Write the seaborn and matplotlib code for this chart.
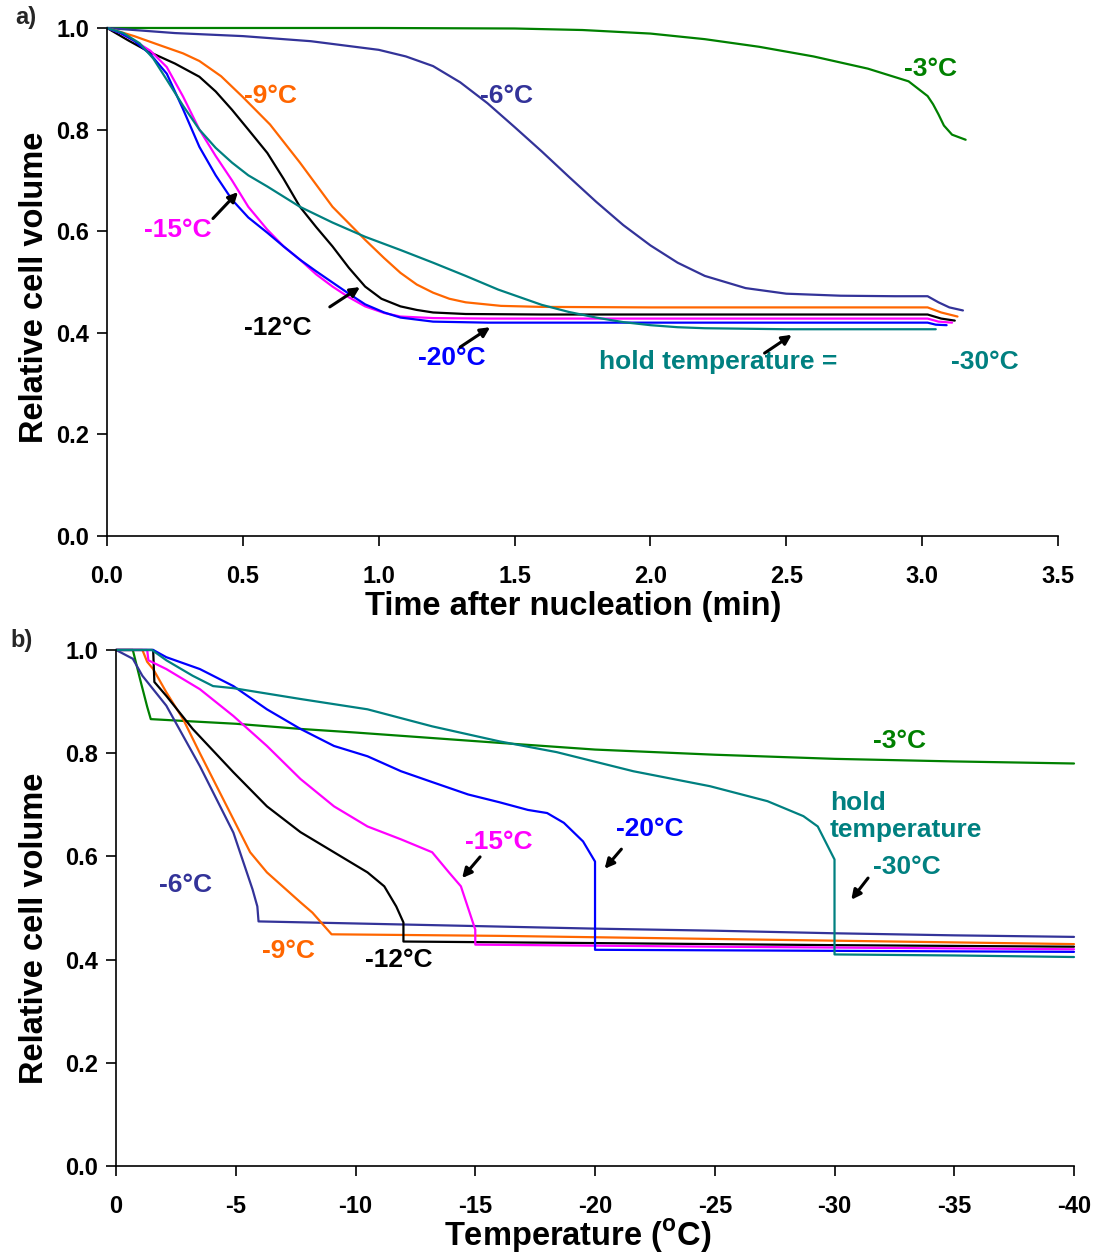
import numpy as np
import pandas as pd
import matplotlib
matplotlib.use('Agg')
import matplotlib.pyplot as plt
import seaborn as sns

# ---- panel a: relative volume vs time after nucleation (min) ----
t_3 = [0, 0.5, 1.0, 1.5, 1.75, 2.0, 2.2, 2.4, 2.6, 2.8, 2.95, 3.02, 3.04, 3.06, 3.08, 3.11, 3.16]
v_3 = [1.0, 1.0, 1.0, 0.999, 0.996, 0.989, 0.978, 0.963, 0.944, 0.92, 0.895, 0.866, 0.85, 0.83, 0.808, 0.79, 0.78]
t_6 = [0, 0.25, 0.5, 0.75, 1.0, 1.1, 1.2, 1.3, 1.4, 1.5, 1.6, 1.7, 1.8, 1.9, 2.0, 2.1, 2.2, 2.35, 2.5, 2.7, 2.9, 3.02, 3.06, 3.1, 3.15]
v_6 = [1.0, 0.99, 0.984, 0.974, 0.957, 0.944, 0.925, 0.893, 0.852, 0.805, 0.757, 0.707, 0.658, 0.612, 0.572, 0.538, 0.512, 0.488, 0.477, 0.473, 0.472, 0.472, 0.46, 0.45, 0.444]
t_9 = [0, 0.1, 0.2, 0.28, 0.34, 0.42, 0.5, 0.6, 0.71, 0.83, 0.95, 1.02, 1.08, 1.14, 1.2, 1.26, 1.32, 1.45, 1.6, 2.0, 2.5, 3.02, 3.07, 3.13]
v_9 = [1.0, 0.984, 0.965, 0.95, 0.935, 0.905, 0.864, 0.81, 0.735, 0.648, 0.583, 0.547, 0.518, 0.495, 0.479, 0.467, 0.46, 0.453, 0.451, 0.45, 0.45, 0.45, 0.44, 0.432]
t_12 = [0, 0.08, 0.155, 0.25, 0.34, 0.4, 0.46, 0.52, 0.59, 0.65, 0.71, 0.77, 0.83, 0.89, 0.95, 1.01, 1.08, 1.14, 1.2, 1.32, 1.6, 2.0, 2.5, 3.02, 3.07, 3.12]
v_12 = [1.0, 0.975, 0.953, 0.93, 0.904, 0.875, 0.839, 0.8, 0.754, 0.703, 0.648, 0.608, 0.57, 0.528, 0.491, 0.467, 0.452, 0.445, 0.44, 0.437, 0.436, 0.436, 0.436, 0.436, 0.428, 0.424]
t_15 = [0, 0.05, 0.1, 0.16, 0.22, 0.28, 0.34, 0.4, 0.46, 0.52, 0.59, 0.65, 0.71, 0.77, 0.83, 0.89, 0.95, 1.02, 1.08, 1.2, 1.4, 2.0, 2.5, 3.02, 3.06, 3.11]
v_15 = [1.0, 0.99, 0.975, 0.955, 0.923, 0.865, 0.80, 0.748, 0.70, 0.648, 0.603, 0.57, 0.544, 0.515, 0.491, 0.47, 0.452, 0.439, 0.432, 0.429, 0.428, 0.428, 0.428, 0.428, 0.422, 0.42]
t_20 = [0, 0.05, 0.1, 0.16, 0.22, 0.28, 0.34, 0.4, 0.46, 0.52, 0.59, 0.65, 0.71, 0.77, 0.83, 0.89, 0.95, 1.02, 1.08, 1.2, 1.4, 2.0, 2.5, 3.02, 3.05, 3.09]
v_20 = [1.0, 0.99, 0.975, 0.948, 0.91, 0.84, 0.766, 0.71, 0.662, 0.627, 0.597, 0.57, 0.544, 0.521, 0.499, 0.477, 0.456, 0.44, 0.43, 0.422, 0.42, 0.42, 0.42, 0.42, 0.416, 0.415]
t_30 = [0, 0.06, 0.12, 0.17, 0.22, 0.28, 0.34, 0.4, 0.46, 0.52, 0.59, 0.71, 0.83, 0.95, 1.08, 1.2, 1.32, 1.44, 1.6, 1.7, 1.8, 1.9, 2.0, 2.1, 2.2, 2.5, 3.05]
v_30 = [1.0, 0.99, 0.97, 0.94, 0.898, 0.847, 0.80, 0.764, 0.735, 0.71, 0.688, 0.648, 0.617, 0.589, 0.563, 0.538, 0.512, 0.485, 0.455, 0.441, 0.43, 0.421, 0.415, 0.411, 0.409, 0.407, 0.407]

# ---- panel b: relative volume vs temperature (C) ----
T_3 = [0, -0.7, -1.0, -1.3, -1.45, -3, -5, -7.7, -10, -13, -16, -20, -25, -30, -35, -40]
b_3 = [1.0, 1.0, 0.944, 0.89, 0.866, 0.862, 0.857, 0.847, 0.84, 0.83, 0.82, 0.807, 0.797, 0.789, 0.784, 0.78]
T_6 = [0, -0.7, -1.1, -2.1, -3.5, -4.9, -5.7, -5.9, -5.95, -10, -16, -20, -25, -30, -35, -40]
b_6 = [1.0, 0.983, 0.95, 0.892, 0.775, 0.646, 0.536, 0.503, 0.474, 0.47, 0.464, 0.46, 0.456, 0.451, 0.447, 0.444]
T_9 = [0, -1.1, -1.3, -1.55, -2.1, -2.8, -3.5, -4.9, -5.6, -6.3, -7.7, -8.2, -9.0, -16, -25, -40]
b_9 = [1.0, 1.0, 0.977, 0.963, 0.918, 0.866, 0.80, 0.672, 0.608, 0.569, 0.511, 0.491, 0.449, 0.446, 0.44, 0.43]
T_12 = [0, -1.55, -1.6, -2.1, -3.2, -4.9, -6.3, -7.7, -9.1, -10.5, -11.2, -11.7, -12.0, -12.0, -20, -30, -40]
b_12 = [1.0, 1.0, 0.938, 0.911, 0.847, 0.763, 0.697, 0.647, 0.608, 0.569, 0.542, 0.503, 0.472, 0.435, 0.432, 0.428, 0.425]
T_15 = [0, -1.3, -1.35, -2.1, -3.5, -4.9, -6.3, -7.7, -9.1, -10.5, -11.9, -13.2, -13.9, -14.4, -14.9, -15.0, -15.0, -25, -40]
b_15 = [1.0, 1.0, 0.98, 0.963, 0.924, 0.872, 0.814, 0.75, 0.697, 0.658, 0.633, 0.608, 0.569, 0.542, 0.472, 0.458, 0.429, 0.425, 0.42]
T_20 = [0, -1.55, -2.1, -3.5, -4.9, -6.3, -7.7, -9.1, -10.5, -11.9, -13.2, -14.7, -16.0, -17.2, -18.0, -18.7, -19.5, -20.0, -20.0, -25, -30, -40]
b_20 = [1.0, 1.0, 0.986, 0.963, 0.93, 0.885, 0.847, 0.814, 0.794, 0.765, 0.744, 0.72, 0.705, 0.69, 0.684, 0.665, 0.629, 0.59, 0.419, 0.418, 0.417, 0.415]
T_30 = [0, -1.5, -2.1, -3.2, -4.05, -4.9, -7.7, -10.5, -13.2, -16.0, -18.4, -21.6, -24.8, -27.2, -28.7, -29.3, -30.0, -30.0, -35, -40]
b_30 = [1.0, 1.0, 0.98, 0.95, 0.93, 0.926, 0.905, 0.885, 0.852, 0.823, 0.802, 0.765, 0.736, 0.707, 0.678, 0.658, 0.594, 0.41, 0.408, 0.405]

hold_temps = ['-3', '-6', '-9', '-12', '-15', '-20', '-30']
colors = {'-3': '#008000', '-6': '#333399', '-9': '#FF6600', '-12': '#000000',
          '-15': '#FF00FF', '-20': '#0000FF', '-30': '#008080'}

series_a = {'-3': (t_3, v_3), '-6': (t_6, v_6), '-9': (t_9, v_9), '-12': (t_12, v_12),
            '-15': (t_15, v_15), '-20': (t_20, v_20), '-30': (t_30, v_30)}
series_b = {'-3': (T_3, b_3), '-6': (T_6, b_6), '-9': (T_9, b_9), '-12': (T_12, b_12),
            '-15': (T_15, b_15), '-20': (T_20, b_20), '-30': (T_30, b_30)}


def to_long(series):
    frames = []
    for k in hold_temps:
        x, y = series[k]
        frames.append(pd.DataFrame({'x': x, 'y': y, 'hold': k}))
    return pd.concat(frames, ignore_index=True)


df_a = to_long(series_a)
df_b = to_long(series_b)

sns.set_theme(style='white')
plt.rcParams['font.family'] = ['Liberation Sans', 'DejaVu Sans']
plt.rcParams['font.weight'] = 'bold'
plt.rcParams['axes.unicode_minus'] = False
plt.rcParams['mathtext.fontset'] = 'custom'
plt.rcParams['mathtext.rm'] = 'Liberation Sans:bold'
plt.rcParams['mathtext.bf'] = 'Liberation Sans:bold'

fig = plt.figure(figsize=(11.02, 12.55), dpi=100)
ax1 = fig.add_axes([0.0971, 0.5729, 0.863, 0.4048])
ax2 = fig.add_axes([0.1053, 0.0709, 0.8693, 0.4112])

for ax, df in [(ax1, df_a), (ax2, df_b)]:
    sns.lineplot(data=df, x='x', y='y', hue='hold', palette=colors,
                 estimator=None, sort=False, legend=False, linewidth=1.6, ax=ax)
    for ln in ax.lines:
        ln.set_clip_on(False)
    for s in ['top', 'right']:
        ax.spines[s].set_visible(False)
    for s in ['left', 'bottom']:
        ax.spines[s].set_color('black')
        ax.spines[s].set_linewidth(1.2)
    ax.tick_params(axis='both', direction='out', length=7, width=1.2, color='black',
                   labelsize=17, labelcolor='black', left=True, bottom=True)
    ax.tick_params(axis='x', pad=14)
    ax.tick_params(axis='y', pad=6)
    ax.set_ylim(0, 1.0)
    ax.set_yticks([0, 0.2, 0.4, 0.6, 0.8, 1.0])
    ax.set_yticklabels(['0.0', '0.2', '0.4', '0.6', '0.8', '1.0'])
    for lab in ax.get_xticklabels() + ax.get_yticklabels():
        lab.set_fontweight('bold')
    ax.set_ylabel('Relative cell volume', fontsize=23.5, fontweight='bold', color='black')

# panel a axes
ax1.set_xlim(0, 3.5)
ax1.set_xticks(np.arange(0, 3.51, 0.5))
ax1.set_xticklabels([f'{v:.1f}' for v in np.arange(0, 3.51, 0.5)], fontweight='bold')
ax1.set_xlabel('Time after nucleation (min)', fontsize=23.5, fontweight='bold', color='black')
ax1.xaxis.set_label_coords(0.49, -0.108)
ax1.xaxis.label.set_va('top')
ax1.yaxis.set_label_coords(-0.06, 0.49)

# panel b axes
ax2.set_xlim(0, -40)
ax2.set_xticks(np.arange(0, -40.1, -5))
ax2.set_xticklabels([f'{int(v)}' for v in np.arange(0, -40.1, -5)], fontweight='bold')
ax2.set_xlabel(r'Temperature ($^{\mathbf{o}}$C)', fontsize=23.5, fontweight='bold', color='black')
ax2.xaxis.set_label_coords(0.482, -0.100)
ax2.xaxis.label.set_va('top')
ax2.yaxis.set_label_coords(-0.069, 0.46)

lab_kw = dict(fontsize=19, fontweight='bold', ha='center', va='center')
arrow_kw = dict(arrowstyle='-|>', color='black', lw=2.2, mutation_scale=14, shrinkA=0, shrinkB=0)

# labels panel a
ax1.text(3.03, 0.919, '-3°C', color=colors['-3'], **lab_kw)
ax1.text(1.47, 0.866, '-6°C', color=colors['-6'], **lab_kw)
ax1.text(0.60, 0.866, '-9°C', color=colors['-9'], **lab_kw)
ax1.text(0.26, 0.602, '-15°C', color=colors['-15'], **lab_kw)
ax1.text(0.63, 0.409, '-12°C', color=colors['-12'], **lab_kw)
ax1.text(1.27, 0.350, '-20°C', color=colors['-20'], **lab_kw)
ax1.text(2.25, 0.343, 'hold temperature =', color=colors['-30'], **lab_kw)
ax1.text(3.23, 0.343, '-30°C', color=colors['-30'], **lab_kw)
ax1.annotate('', xy=(0.482, 0.677), xytext=(0.39, 0.625), arrowprops=arrow_kw)
ax1.annotate('', xy=(0.931, 0.49), xytext=(0.82, 0.451), arrowprops=arrow_kw)
ax1.annotate('', xy=(1.41, 0.411), xytext=(1.30, 0.372), arrowprops=arrow_kw)
ax1.annotate('', xy=(2.52, 0.396), xytext=(2.42, 0.360), arrowprops=arrow_kw)

# labels panel b
ax2.text(-32.7, 0.824, '-3°C', color=colors['-3'], **lab_kw)
ax2.text(-29.8, 0.703, 'hold', color=colors['-30'], fontsize=19, fontweight='bold', ha='left', va='center')
ax2.text(-29.8, 0.651, 'temperature', color=colors['-30'], fontsize=19, fontweight='bold', ha='left', va='center')
ax2.text(-33.0, 0.579, '-30°C', color=colors['-30'], **lab_kw)
ax2.text(-22.3, 0.653, '-20°C', color=colors['-20'], **lab_kw)
ax2.text(-16.0, 0.628, '-15°C', color=colors['-15'], **lab_kw)
ax2.text(-2.9, 0.545, '-6°C', color=colors['-6'], **lab_kw)
ax2.text(-7.2, 0.417, '-9°C', color=colors['-9'], **lab_kw)
ax2.text(-11.8, 0.399, '-12°C', color=colors['-12'], **lab_kw)
ax2.annotate('', xy=(-30.7, 0.516), xytext=(-31.4, 0.558), arrowprops=arrow_kw)
ax2.annotate('', xy=(-20.4, 0.576), xytext=(-21.1, 0.614), arrowprops=arrow_kw)
ax2.annotate('', xy=(-14.45, 0.558), xytext=(-15.2, 0.599), arrowprops=arrow_kw)

fig.text(0.023, 0.986, 'a)', fontsize=17, fontweight='bold', ha='center', va='center')
fig.text(0.020, 0.490, 'b)', fontsize=17, fontweight='bold', ha='center', va='center')

fig.savefig('out.png', dpi=100)
